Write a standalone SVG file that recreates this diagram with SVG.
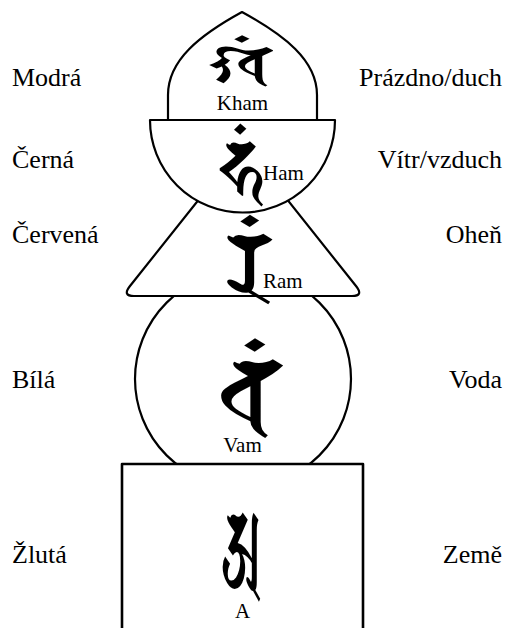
<svg xmlns="http://www.w3.org/2000/svg" width="509" height="628" viewBox="0 0 509 628">
<style>
.shape{fill:#fff;stroke:#000;stroke-width:2.2;stroke-linejoin:round}
.lbl{font-family:'Liberation Serif','Times New Roman','DejaVu Serif',serif;font-size:26px;fill:#000}
.in{font-family:'Liberation Serif','Times New Roman','DejaVu Serif',serif;font-size:21px;fill:#000}
.seed{font-family:'Noto Sans Siddham','Noto Serif Devanagari',serif;font-size:64px;fill:#000;text-anchor:middle}
</style>
<rect width="509" height="628" fill="#fff"/>
<g id="water">
<circle class="shape" cx="243" cy="379" r="108"/>
<text class="seed" transform="translate(251,427) scale(1.8,1.55)">𑖪𑖽</text>
<text class="in" x="242.5" y="452" text-anchor="middle">Vam</text>
</g>
<g id="earth">
<path class="shape" d="M122,640 L122,464 L363,464 L363,640" style="stroke-width:2.6"/>
<text class="seed" transform="translate(242,589) scale(0.86,1.75)">𑖀</text>
<text class="in" x="242.5" y="618" text-anchor="middle">A</text>
</g>
<g id="fire">
<path class="shape" d="M243,144 L130,286 Q122,296 134,296 L352,296 Q364,296 356,286 Z"/>
<text class="seed" transform="translate(249,295) scale(1.6,1.4)">𑖨𑖽</text>
<text class="in" x="263" y="288">Ram</text>
</g>
<g id="air">
<path class="shape" d="M150,120 L335,120 A92.5,92.5 0 0 1 150,120 Z"/>
<text class="seed" transform="translate(242,198) scale(1.05,1.3)">𑖮𑖽</text>
<text class="in" x="263" y="180">Ham</text>
</g>
<g id="space">
<path class="shape" d="M168,120 L168,95 C168,60 200,35 242,12 C284,35 317,60 317,95 L317,120 Z"/>
<text class="seed" transform="translate(241,84) scale(1.3,0.85)">𑖏𑖽</text>
<text class="in" x="242.5" y="110" text-anchor="middle">Kham</text>
</g>
<g id="labels-left">
<text class="lbl" x="12" y="86">Modrá</text>
<text class="lbl" x="12" y="168">Černá</text>
<text class="lbl" x="12" y="243">Červená</text>
<text class="lbl" x="12" y="388">Bílá</text>
<text class="lbl" x="12" y="563">Žlutá</text>
</g>
<g id="labels-right" text-anchor="end">
<text class="lbl" x="502" y="86">Prázdno/duch</text>
<text class="lbl" x="502" y="168">Vítr/vzduch</text>
<text class="lbl" x="502" y="243">Oheň</text>
<text class="lbl" x="502" y="388">Voda</text>
<text class="lbl" x="502" y="563">Země</text>
</g>
<g id="connectors"/>
</svg>
